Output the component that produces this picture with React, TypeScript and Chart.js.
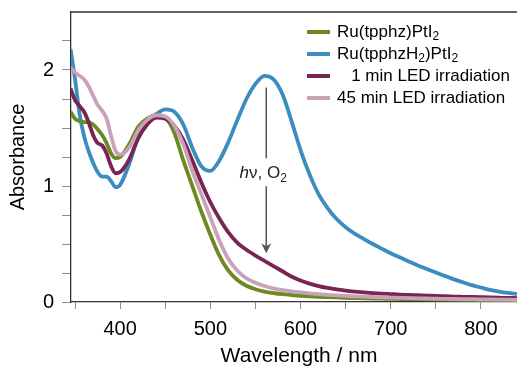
import React, { useEffect, useRef } from 'react';
import { Chart, registerables } from 'chart.js';

Chart.register(...registerables);

// ---------- data ----------
const wavelengths = [
  345, 350, 355, 360, 365, 370, 375, 380, 385, 390, 395, 400,
  410, 420, 430, 440, 450, 460, 470, 480, 490, 500,
  510, 520, 530, 540, 550, 560, 570, 580, 590, 600,
  610, 620, 630, 640, 650, 660, 670, 680, 690, 700,
  710, 720, 730, 740, 750, 760, 770, 780, 790, 800,
  810, 820, 830, 840,
];

const absTpphz = [
  1.64, 1.58, 1.56, 1.55, 1.55, 1.53, 1.49, 1.44, 1.37, 1.28, 1.24, 1.25,
  1.36, 1.51, 1.58, 1.61, 1.59, 1.46, 1.22, 1.0, 0.78, 0.58,
  0.4, 0.27, 0.19, 0.14, 0.11, 0.09, 0.077, 0.067, 0.06, 0.054,
  0.049, 0.045, 0.042, 0.039, 0.036, 0.034, 0.032, 0.03, 0.029, 0.027,
  0.026, 0.025, 0.024, 0.023, 0.022, 0.021, 0.02, 0.019, 0.018, 0.017,
  0.016, 0.015, 0.014, 0.013,
];

const absTpphzH2 = [
  2.18, 1.92, 1.62, 1.43, 1.3, 1.2, 1.12, 1.08, 1.08, 1.04, 0.99, 1.01,
  1.19, 1.42, 1.56, 1.62, 1.66, 1.64, 1.53, 1.33, 1.17, 1.13,
  1.22, 1.38, 1.57, 1.75, 1.88, 1.95, 1.92, 1.79, 1.56, 1.31,
  1.1, 0.93, 0.81, 0.715, 0.645, 0.59, 0.545, 0.5, 0.46, 0.42,
  0.385, 0.35, 0.315, 0.285, 0.255, 0.225, 0.195, 0.17, 0.145, 0.125,
  0.105, 0.09, 0.078, 0.068,
];

const abs1min = [
  1.84, 1.74, 1.69, 1.64, 1.55, 1.44, 1.37, 1.35, 1.28, 1.17, 1.11, 1.12,
  1.23, 1.41, 1.53, 1.59, 1.58, 1.52, 1.4, 1.22, 1.03, 0.86,
  0.72, 0.6, 0.51, 0.45, 0.4, 0.355, 0.31, 0.265, 0.22, 0.185,
  0.158, 0.137, 0.121, 0.108, 0.098, 0.09, 0.083, 0.077, 0.072, 0.068,
  0.064, 0.061, 0.058, 0.055, 0.052, 0.05, 0.047, 0.045, 0.043, 0.041,
  0.039, 0.037, 0.035, 0.034,
];

const abs45min = [
  2.02, 1.98, 1.95, 1.92, 1.86, 1.78, 1.7, 1.65, 1.58, 1.43, 1.3, 1.27,
  1.33, 1.48, 1.57, 1.61, 1.6, 1.52, 1.36, 1.13, 0.93, 0.73,
  0.53, 0.37, 0.27, 0.205, 0.165, 0.138, 0.118, 0.103, 0.092, 0.083,
  0.075, 0.068, 0.062, 0.057, 0.053, 0.049, 0.046, 0.043, 0.04, 0.038,
  0.036, 0.034, 0.032, 0.03, 0.028, 0.027, 0.026, 0.025, 0.024, 0.023,
  0.022, 0.021, 0.02, 0.019,
];

// labels: "_x" marks a subscript character
const seriesLabels = ['Ru(tpphz)PtI_2', 'Ru(tpphzH_2)PtI_2', '   1 min LED irradiation', '45 min LED irradiation'];
const seriesColors = ['#6b8a22', '#3b8dbf', '#7a2452', '#c9a2b9'];
const seriesOrder = [2, 3, 1, 0];

const xTicks = [350, 400, 450, 500, 550, 600, 650, 700, 750, 800];
const yTicks = [0, 0.25, 0.5, 0.75, 1, 1.25, 1.5, 1.75, 2, 2.25];
const xTitle = 'Wavelength / nm';
const yTitle = 'Absorbance';

// annotation (arrow hν, O2)
const arrowWavelength = 562;
const arrowStart = 1.85;
const arrowEnd = 0.42;
const arrowLabelAbs = 1.11;

// ---------- helpers ----------
const FONT = "'Liberation Sans', Arial, Helvetica, sans-serif";

type Seg = { t: string; sub?: boolean; italic?: boolean };

function parseLabel(text: string): Seg[] {
  const segs: Seg[] = [];
  for (let i = 0; i < text.length; i++) {
    if (text[i] === '_' && i + 1 < text.length) {
      segs.push({ t: text[i + 1], sub: true });
      i++;
    } else {
      const last = segs[segs.length - 1];
      if (last && !last.sub) last.t += text[i];
      else segs.push({ t: text[i] });
    }
  }
  return segs;
}

function segFont(s: Seg, size: number) {
  const sz = s.sub ? Math.round(size * 0.68) : size;
  return `${s.italic ? 'italic ' : ''}${sz}px ${FONT}`;
}

function measureSegs(ctx: CanvasRenderingContext2D, segs: Seg[], size: number) {
  let w = 0;
  for (const s of segs) {
    ctx.font = segFont(s, size);
    w += ctx.measureText(s.t).width;
  }
  return w;
}

function drawSegs(ctx: CanvasRenderingContext2D, segs: Seg[], x: number, y: number, size: number) {
  let cx = x;
  ctx.textAlign = 'left';
  ctx.textBaseline = 'middle';
  for (const s of segs) {
    ctx.font = segFont(s, size);
    ctx.fillText(s.t, cx, s.sub ? y + size * 0.3 : y);
    cx += ctx.measureText(s.t).width;
  }
}

const framePlugin = {
  id: 'frameTop',
  afterDraw(chart: any) {
    const { ctx, chartArea } = chart;
    ctx.save();
    ctx.strokeStyle = '#333';
    ctx.lineWidth = 1.3;
    ctx.beginPath();
    ctx.moveTo(chartArea.left, chartArea.top);
    ctx.lineTo(chartArea.right, chartArea.top);
    ctx.stroke();
    // x axis title
    ctx.fillStyle = '#000';
    ctx.font = `21px ${FONT}`;
    ctx.textAlign = 'center';
    ctx.textBaseline = 'alphabetic';
    const cx = (chartArea.left + chartArea.right) / 2 + 5;
    ctx.fillText(xTitle, cx, chartArea.bottom + 60);
    ctx.restore();
  },
};

const legendPlugin = {
  id: 'customLegend',
  afterDraw(chart: any) {
    const { ctx } = chart;
    ctx.save();
    const x0 = 307;
    const y0 = 32;
    const rowH = 22;
    seriesLabels.forEach((label, i) => {
      const y = y0 + i * rowH;
      ctx.strokeStyle = seriesColors[i];
      ctx.lineWidth = 4;
      ctx.beginPath();
      ctx.moveTo(x0, y);
      ctx.lineTo(x0 + 23, y);
      ctx.stroke();
      ctx.fillStyle = '#000';
      drawSegs(ctx, parseLabel(label), x0 + 30, y, 17);
    });
    ctx.restore();
  },
};

const annotationPlugin = {
  id: 'arrowAnnotation',
  afterDatasetsDraw(chart: any) {
    const { ctx } = chart;
    const xs = chart.scales.x;
    const ys = chart.scales.y;
    const x = xs.getPixelForValue(arrowWavelength);
    const yA = ys.getPixelForValue(arrowStart);
    const yB = ys.getPixelForValue(arrowEnd);
    const yT = ys.getPixelForValue(arrowLabelAbs);
    const size = 17;
    const segs: Seg[] = [{ t: 'h', italic: true }, { t: 'ν, O' }, { t: '2', sub: true }];
    ctx.save();
    const w = measureSegs(ctx, segs, size);
    const boxTop = yT - 15;
    const boxBot = yT + 13;
    ctx.strokeStyle = '#555';
    ctx.fillStyle = '#555';
    ctx.lineWidth = 1.5;
    ctx.beginPath();
    ctx.moveTo(x, yA);
    ctx.lineTo(x, boxTop);
    ctx.moveTo(x, boxBot);
    ctx.lineTo(x, yB - 6);
    ctx.stroke();
    ctx.beginPath();
    ctx.moveTo(x, yB);
    ctx.lineTo(x - 5, yB - 10);
    ctx.lineTo(x, yB - 7);
    ctx.lineTo(x + 5, yB - 10);
    ctx.closePath();
    ctx.fill();
    ctx.fillStyle = '#222';
    drawSegs(ctx, segs, x - w / 2 - 3, yT, size);
    ctx.restore();
  },
};

export default function App() {
  const ref = useRef<HTMLCanvasElement>(null);

  useEffect(() => {
    const canvas = ref.current;
    if (!canvas) return;
    const series = [absTpphz, absTpphzH2, abs1min, abs45min];
    const chart = new Chart(canvas, {
      type: 'line',
      data: {
        datasets: series.map((vals, i) => ({
          label: seriesLabels[i],
          data: wavelengths.map((w, j) => ({ x: w, y: vals[j] })),
          borderColor: seriesColors[i],
          backgroundColor: seriesColors[i],
          borderWidth: 3.8,
          pointRadius: 0,
          cubicInterpolationMode: 'monotone',
          fill: false,
          order: seriesOrder[i],
        })),
      },
      options: {
        responsive: false,
        animation: false,
        devicePixelRatio: 1,
        layout: { padding: { top: 12, left: 0, right: 0, bottom: 0 } },
        plugins: { legend: { display: false }, tooltip: { enabled: false } },
        scales: {
          x: {
            type: 'linear',
            min: 345.5,
            max: 840,
            afterBuildTicks: (s: any) => {
              s.ticks = xTicks.map((v) => ({ value: v }));
            },
            afterFit: (s: any) => {
              s.height = 65;
              s.paddingLeft = 0;
              s.paddingRight = 0;
            },
            ticks: {
              autoSkip: false,
              maxRotation: 0,
              padding: 8,
              color: '#000',
              font: { family: FONT, size: 20 },
              callback: (v: any) => (Number(v) % 100 === 0 ? String(v) : ''),
            },
            grid: { drawOnChartArea: false, tickLength: 7, color: '#8c8c8c', tickWidth: 1 },
            border: { color: '#333', width: 1.3 },
            title: { display: false },
          },
          y: {
            type: 'linear',
            min: 0,
            max: 2.5,
            afterBuildTicks: (s: any) => {
              s.ticks = yTicks.map((v) => ({ value: v }));
            },
            afterFit: (s: any) => {
              s.width = 71;
              s.paddingTop = 0;
              s.paddingBottom = 0;
            },
            ticks: {
              autoSkip: false,
              padding: 8,
              color: '#000',
              font: { family: FONT, size: 20 },
              callback: (v: any) => (Number.isInteger(Number(v)) ? String(v) : ''),
            },
            grid: { drawOnChartArea: false, tickLength: 9, color: '#8c8c8c', tickWidth: 1 },
            border: { color: '#333', width: 1.3 },
            title: {
              display: true,
              text: yTitle,
              color: '#000',
              font: { family: FONT, size: 20 },
              padding: { top: 6, bottom: 0 },
            },
          },
        },
      },
      plugins: [framePlugin, legendPlugin, annotationPlugin],
    } as any);
    return () => chart.destroy();
  }, []);

  return (
    <div style={{ position: 'absolute', left: 0, top: 0, width: 517, height: 367, background: '#fff' }}>
      <canvas ref={ref} width={517} height={367} style={{ display: 'block' }} />
    </div>
  );
}
